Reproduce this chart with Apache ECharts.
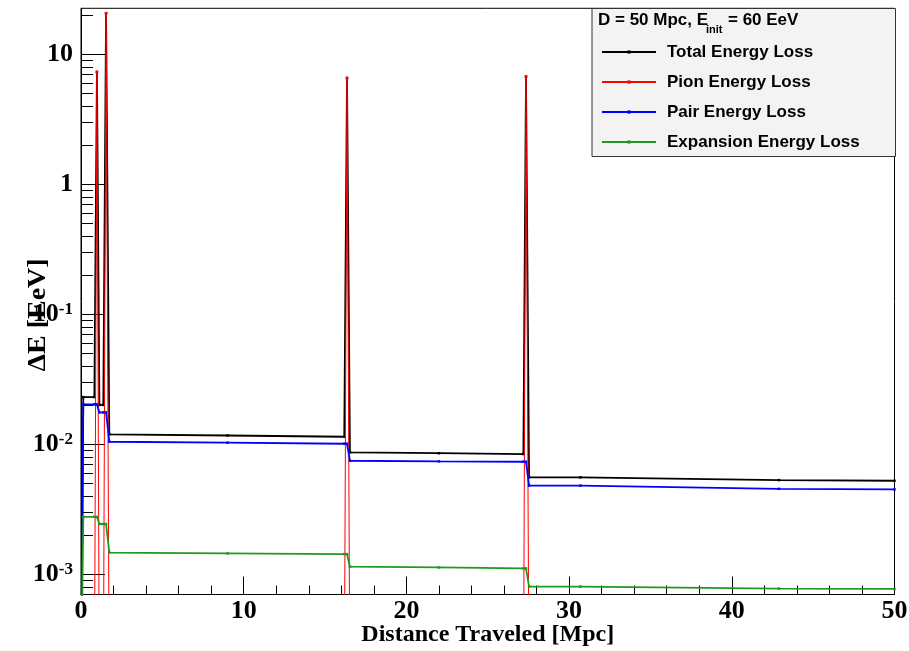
<!DOCTYPE html>
<html>
<head>
<meta charset="utf-8">
<script src="https://cdn.jsdelivr.net/npm/echarts@6/dist/echarts.min.js"></script>
<style>
  html, body { margin: 0; padding: 0; background: #ffffff; }
  #chart { width: 909px; height: 651px; }
</style>
</head>
<body>
<div id="chart"></div>
<script>
// Sample positions along the path (Mpc)
const distance = [0, 0.14, 0.82, 0.98, 1.13, 1.37, 1.54, 1.74, 9.0, 16.18, 16.35, 16.53, 22.0, 27.19, 27.35, 27.54, 30.7, 42.9, 50];

// Energy lost per step (EeV)
const totalLoss     = [0, 0.0231, 0.0231, 7.33, 0.0201, 0.0201, 20.7, 0.01194, 0.0117, 0.01144, 6.58, 0.00868, 0.00855, 0.00842, 6.74, 0.00557, 0.00557, 0.00531, 0.00525];
const pionLoss      = [0, 0, 0, 7.31, 0, 0, 20.7, 0, 0, 0, 6.57, 0, 0, 0, 6.73, 0, 0, 0, 0];
const pairLoss      = [0, 0.0203, 0.0203, 0.0203, 0.0176, 0.0176, 0.0176, 0.01047, 0.0103, 0.01011, 0.01011, 0.00748, 0.0074, 0.00735, 0.00735, 0.00481, 0.00481, 0.00455, 0.0045];
const expansionLoss = [0, 0.00277, 0.00277, 0.00277, 0.00244, 0.00244, 0.00244, 0.001472, 0.00145, 0.001432, 0.001432, 0.001145, 0.00113, 0.001112, 0.001112, 0.000805, 0.000805, 0.000778, 0.000772];

const seriesNames = ['Total Energy Loss', 'Pion Energy Loss', 'Pair Energy Loss', 'Expansion Energy Loss'];
const seriesValues = [totalLoss, pionLoss, pairLoss, expansionLoss];
const seriesColors = ['#000000', '#ff0000', '#0000ff', '#1f9a1f'];

// Axis ticks
const xRange = [0, 50];
const yRange = [7.0e-4, 22.6];
const yMajorTicks = [1e-3, 1e-2, 1e-1, 1, 10];
const yMinorTicks = [8e-4, 9e-4,
  2e-3, 3e-3, 4e-3, 5e-3, 6e-3, 7e-3, 8e-3, 9e-3,
  2e-2, 3e-2, 4e-2, 5e-2, 6e-2, 7e-2, 8e-2, 9e-2,
  0.2, 0.3, 0.4, 0.5, 0.6, 0.7, 0.8, 0.9,
  2, 3, 4, 5, 6, 7, 8, 9, 20];

// A log axis cannot show zero: zero losses sit below the visible range
const ZERO_FLOOR = 1e-4;
const toPoints = vals => distance.map((d, i) => [d, vals[i] > 0 ? vals[i] : ZERO_FLOOR]);

const serif = '"Liberation Serif", "Times New Roman", serif';
const sans = '"Liberation Sans", Arial, Helvetica, sans-serif';

function yLabel(v) {
  const p = Math.round(Math.log10(v));
  if (p === 0) return '{b|1}';
  if (p === 1) return '{b|10}';
  return '{b|10}{s|' + p + '}';
}

const chart = echarts.init(document.getElementById('chart'), null, { renderer: 'canvas' });

chart.setOption({
  animation: false,
  backgroundColor: '#ffffff',
  grid: {
    left: 81, right: 14.5, top: 8.3, bottom: 56.5,
    outerBoundsMode: 'none', containLabel: false,
    show: true, borderColor: '#000', borderWidth: 1, backgroundColor: 'transparent'
  },
  xAxis: {
    type: 'value', min: xRange[0], max: xRange[1], interval: 10,
    axisLine: { lineStyle: { color: '#000', width: 1 } },
    axisTick: { inside: true, length: 18, lineStyle: { color: '#000', width: 1 } },
    minorTick: { show: true, splitNumber: 5, length: 9, lineStyle: { color: '#000', width: 1 } },
    splitLine: { show: false },
    axisLabel: { fontFamily: serif, fontWeight: 'bold', fontSize: 26, color: '#000', margin: 4 },
    name: 'Distance Traveled [Mpc]', nameLocation: 'middle', nameGap: 28, nameMoveOverlap: false,
    nameTextStyle: { fontFamily: serif, fontWeight: 'bold', fontSize: 24, color: '#000' }
  },
  yAxis: [
    {
      type: 'log', logBase: 10, min: yRange[0], max: yRange[1],
      axisLine: { show: true, lineStyle: { color: '#000', width: 1 } },
      axisTick: { inside: true, length: 24, customValues: yMajorTicks, lineStyle: { color: '#000', width: 1 } },
      minorTick: { show: false },
      splitLine: { show: false },
      axisLabel: {
        customValues: yMajorTicks, margin: 8, formatter: yLabel,
        rich: {
          b: { fontFamily: serif, fontWeight: 'bold', fontSize: 26, lineHeight: 26, color: '#000' },
          s: { fontFamily: serif, fontWeight: 'bold', fontSize: 17, lineHeight: 17, color: '#000', verticalAlign: 'top' }
        }
      }
    },
    {
      type: 'log', logBase: 10, min: yRange[0], max: yRange[1], position: 'left',
      axisLine: { show: false },
      axisTick: { inside: true, length: 12, customValues: yMinorTicks, lineStyle: { color: '#000', width: 1 } },
      minorTick: { show: false },
      splitLine: { show: false },
      axisLabel: { show: false }
    }
  ],
  legend: {
    orient: 'vertical', left: 601, top: 42, padding: 0,
    itemWidth: 54, itemHeight: 4, itemGap: 10,
    textStyle: { fontFamily: sans, fontWeight: 'bold', fontSize: 17, lineHeight: 20, color: '#000', padding: [0, 0, 0, 6] },
    data: seriesNames, z: 6
  },
  graphic: [
    {
      type: 'rect', z: 5,
      shape: { x: 592, y: 8.5, width: 303.5, height: 148 },
      style: { fill: '#f3f3f3', stroke: '#333', lineWidth: 1 }
    },
    {
      type: 'text', z: 7, x: 598, y: 20,
      style: { text: 'D = 50 Mpc, E', font: 'bold 17px ' + sans, fill: '#000', verticalAlign: 'middle' }
    },
    {
      type: 'text', z: 7, x: 706, y: 30,
      style: { text: 'init', font: 'bold 11px ' + sans, fill: '#000', verticalAlign: 'middle' }
    },
    {
      type: 'text', z: 7, x: 728, y: 20,
      style: { text: '= 60 EeV', font: 'bold 17px ' + sans, fill: '#000', verticalAlign: 'middle' }
    },
    {
      type: 'text', z: 7, x: 38, y: 315, rotation: Math.PI / 2, scaleY: 0.9,
      style: { text: '\u0394E [EeV]', font: 'bold 28px ' + serif, fill: '#000', align: 'center', verticalAlign: 'middle' }
    }
  ],
  series: seriesNames.map((name, i) => ({
    name: name,
    type: 'line',
    yAxisIndex: 0,
    data: toPoints(seriesValues[i]),
    clip: true,
    symbol: 'rect',
    symbolSize: 2.5,
    showSymbol: true,
    color: seriesColors[i],
    itemStyle: { color: seriesColors[i] },
    lineStyle: { color: seriesColors[i], width: i === 1 ? 1 : 1.8 },
    emphasis: { disabled: true },
    z: 2 + i
  }))
});
</script>
</body>
</html>
